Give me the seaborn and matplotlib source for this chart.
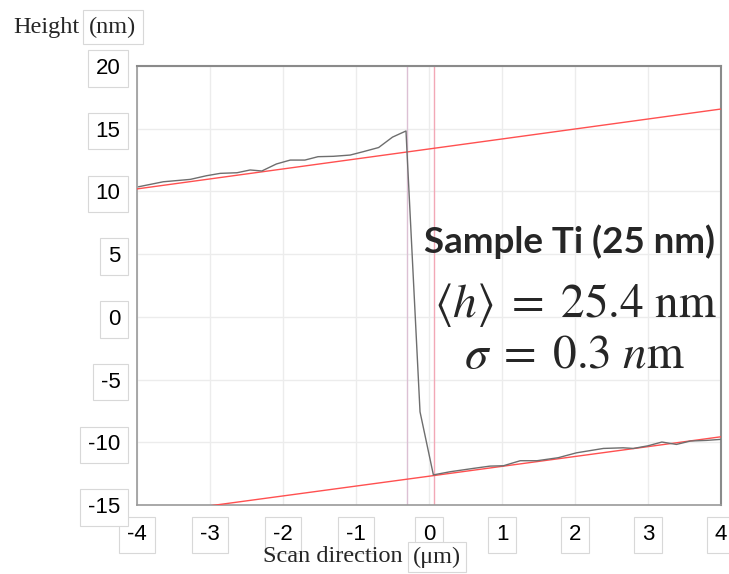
import matplotlib
matplotlib.use("Agg")
import matplotlib.pyplot as plt
import seaborn as sns
import pandas as pd
from matplotlib.ticker import AutoMinorLocator

# ---- data ----
profile_x = [-3.98, -3.64, -3.27, -3.05, -2.86, -2.63, -2.45, -2.29, -2.09, -1.90, -1.70,
             -1.52, -1.31, -1.08, -0.90, -0.69, -0.50, -0.315, -0.30, -0.123, 0.06,
             0.288, 0.61, 0.836, 1.02, 1.25, 1.48, 1.77, 2.02, 2.39, 2.66, 2.80, 3.00,
             3.19, 3.39, 3.58, 3.80, 3.99]
profile_y = [10.37, 10.77, 10.96, 11.25, 11.44, 11.49, 11.71, 11.63, 12.19, 12.50, 12.50,
             12.77, 12.80, 12.90, 13.17, 13.50, 14.33, 14.82, 13.0, -7.57, -12.60,
             -12.35, -12.08, -11.90, -11.87, -11.47, -11.47, -11.23, -10.84, -10.49, -10.44,
             -10.49, -10.28, -9.98, -10.17, -9.90, -9.85, -9.77]
fit_x = [-4, 4]
fit_upper_y = [10.2, 16.57]
fit_lower_y = [-15.85, -9.56]
cursor_x = [-0.30, 0.07]
x_ticks = [-4, -3, -2, -1, 0, 1, 2, 3, 4]
y_ticks = [-15, -10, -5, 0, 5, 10, 15, 20]

sns.set_theme(style="white")
plt.rcParams['font.family'] = ['Liberation Sans', 'DejaVu Sans']
plt.rcParams['mathtext.fontset'] = 'stix'

fig = plt.figure(figsize=(7.29, 5.74), dpi=100)
ax = fig.add_axes([137/729, 1-505/574, (721-137)/729, (505-66)/574])

df_prof = pd.DataFrame({"x": profile_x, "y": profile_y})
df_up = pd.DataFrame({"x": fit_x, "y": fit_upper_y})
df_lo = pd.DataFrame({"x": fit_x, "y": fit_lower_y})

ax.axvline(cursor_x[0], color="#dcc0d4", lw=1.0, zorder=1)
ax.axvline(cursor_x[1], color="#f2a8b6", lw=1.0, zorder=1)
sns.lineplot(data=df_up, x="x", y="y", ax=ax, color="#ff5050", lw=1.0, sort=False, zorder=3)
sns.lineplot(data=df_lo, x="x", y="y", ax=ax, color="#ff5050", lw=1.0, sort=False, zorder=3)
sns.lineplot(data=df_prof, x="x", y="y", ax=ax, color="#6e6e6e", lw=1.0, sort=False,
             estimator=None, zorder=4)

ax.set_xlim(-4, 4)
ax.set_ylim(-15, 20)
ax.set_xticks(x_ticks)
ax.set_yticks(y_ticks)
ax.xaxis.set_minor_locator(AutoMinorLocator(10))
ax.yaxis.set_minor_locator(AutoMinorLocator(15))
ax.grid(True, which="major", color="#ececec", lw=1.0)
ax.set_axisbelow(True)
ax.set_xlabel("")
ax.set_ylabel("")

for s in ["left", "bottom"]:
    ax.spines[s].set_color("#9a9a9a")
    ax.spines[s].set_linewidth(1.2)
for s in ["top", "right"]:
    ax.spines[s].set_color("#8a8a8a")
    ax.spines[s].set_linewidth(1.5)

ax.tick_params(axis="both", which="major", direction="out", length=6, width=1,
               color="#8a8a8a", labelsize=16, labelcolor="black")
ax.tick_params(axis="y", which="major", pad=6)
ax.tick_params(axis="x", which="major", pad=8)
ax.tick_params(axis="both", which="minor", direction="out", length=3, width=0.8,
               color="#8a8a8a")
ax.set_xticklabels([str(v) for v in x_ticks])
ax.set_yticklabels([str(v) for v in y_ticks])
box = dict(boxstyle="square,pad=0.35", fc="white", ec="#d8d8d8", lw=0.8)
for lab in ax.get_xticklabels() + ax.get_yticklabels():
    lab.set_bbox(box)

# axis titles (serif)
serif = ['Liberation Serif', 'DejaVu Serif']
fig.text(13/729, 1-27/574, "Height", family=serif, fontsize=17.5, ha="left", va="center")
fig.text(113/729, 1-27/574, "(nm)", family=serif, fontsize=17.5, ha="center", va="center",
         bbox=dict(boxstyle="square,pad=0.25", fc="white", ec="#d8d8d8", lw=0.8))
fig.text(263/729, 1-557/574, "Scan direction", family=serif, fontsize=17.5, ha="left", va="center")
fig.text(437/729, 1-557/574, "(μm)", family=serif, fontsize=17.5, ha="center", va="center",
         bbox=dict(boxstyle="square,pad=0.2", fc="white", ec="#d8d8d8", lw=0.8))

# annotations
fig.text(569/729, 1-242/574, "Sample Ti (25 nm)", family=['Lato', 'DejaVu Sans'],
         fontweight="bold", fontsize=26.5, ha="center", va="center")
fig.text(575/729, 1-305/574, r"$\langle h\rangle\;=\;25.4\ \mathrm{nm}$", fontsize=34,
         ha="center", va="center")
fig.text(575/729, 1-356/574, r"$\sigma\;=\;0.3\ n\mathrm{m}$", fontsize=34,
         ha="center", va="center")

fig.savefig("out.png", dpi=100)
